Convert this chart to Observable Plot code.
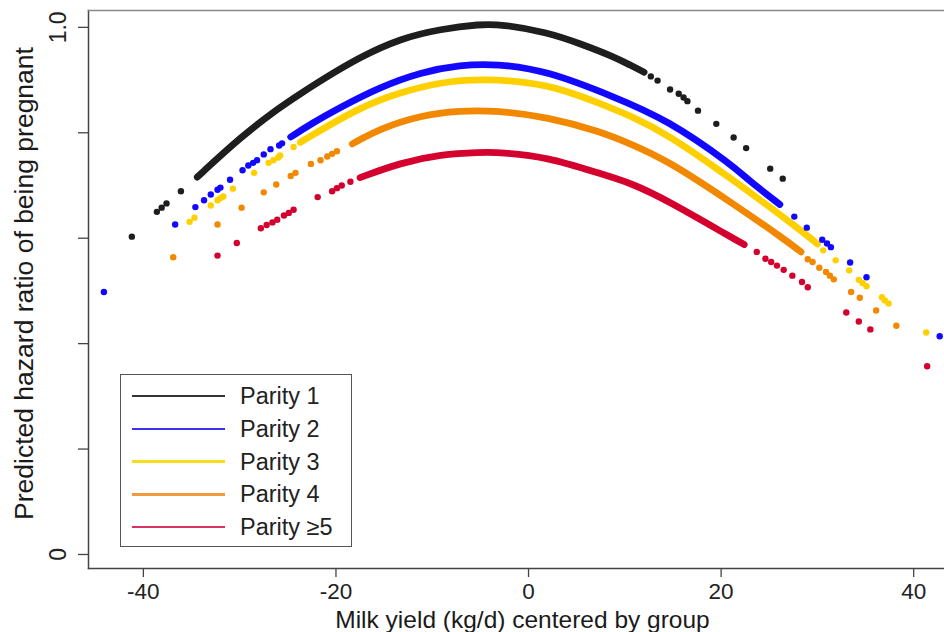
<!DOCTYPE html>
<html>
<head>
<meta charset="utf-8">
<script src="https://cdn.jsdelivr.net/npm/d3@7"></script>
<script src="https://cdn.jsdelivr.net/npm/@observablehq/plot@0.6"></script>
<style>
html, body { margin: 0; padding: 0; background: #fff; }
#wrap { position: relative; width: 944px; height: 632px; overflow: hidden; font-family: "Liberation Sans", Arial, sans-serif; }
#legend { position: absolute; left: 120px; top: 374px; width: 230px; height: 171px; border: 1.5px solid #555; background: #fff; }
.lg-line { position: absolute; left: 11px; width: 93px; height: 2.5px; }
.lg-text { position: absolute; left: 119px; height: 30px; line-height: 30px; font-size: 23.5px; color: #222; white-space: nowrap; }
</style>
</head>
<body>
<div id="wrap"></div>
<script>
// ---- labels / categories ----
const parities = ["Parity 1", "Parity 2", "Parity 3", "Parity 4", "Parity \u22655"];
const seriesColors = ["#1e1e1e", "#1208ff", "#ffd000", "#f28800", "#d4002e"];
const legendColors = ["#333333", "#3a32ee", "#f6dc1a", "#f09a3c", "#d83462"];
const xTicks = [-40, -20, 0, 20, 40];
const xTickLabels = ["-40", "-20", "0", "20", "40"];
const yTicks = [0, 0.2, 0.4, 0.6, 0.8, 1.0];
const yTickLabels = ["0", "", "", "", "", "1.0"];
const xTitle = "Milk yield (kg/d) centered by group";
const yTitle = "Predicted hazard ratio of being pregnant";

// ---- dense (continuous-looking) stretches of each series ----
const p1CurveX = [-34.4, -29.9, -25.8, -23.7, -21.6, -17.5, -13.3, -9.1, -5.0, -2.9, 1.9, 5.4, 8.9, 10.6, 12.0];
const p1CurveY = [0.716, 0.792, 0.849, 0.874, 0.899, 0.944, 0.979, 0.997, 1.006, 1.006, 0.991, 0.969, 0.944, 0.928, 0.915];
const p2CurveX = [-24.7, -22.6, -19.5, -15.4, -11.2, -7.1, -3.3, 1.9, 8.9, 14.4, 21.3, 22.7, 26.1];
const p2CurveY = [0.792, 0.817, 0.849, 0.887, 0.915, 0.929, 0.931, 0.918, 0.868, 0.825, 0.737, 0.712, 0.664];
const p3CurveX = [-23.7, -17.5, -13.3, -9.1, -5.0, 2.0, 7.5, 10.6, 14.4, 21.3, 28.3, 30.0];
const p3CurveY = [0.782, 0.849, 0.877, 0.896, 0.903, 0.894, 0.855, 0.832, 0.798, 0.710, 0.615, 0.589];
const p4CurveX = [-18.3, -15.4, -11.2, -7.1, -3.3, 2.0, 7.5, 10.6, 14.4, 21.3, 26.5, 28.3];
const p4CurveY = [0.779, 0.808, 0.833, 0.842, 0.842, 0.830, 0.802, 0.779, 0.748, 0.665, 0.599, 0.574];
const p5CurveX = [-17.5, -13.3, -9.1, -5.0, -2.9, 2.0, 7.5, 10.6, 14.4, 21.3, 22.4];
const p5CurveY = [0.715, 0.743, 0.759, 0.763, 0.763, 0.754, 0.722, 0.705, 0.672, 0.599, 0.588];

// ---- scattered single observations ----
const p1DotsX = [-41.2, -38.6, -38.1, -37.6, -36.1, 12.7, 13.4, 14.7, 15.6, 16.1, 16.5, 17.6, 19.5, 21.3, 22.6, 25.1, 26.4];
const p1DotsY = [0.603, 0.650, 0.658, 0.666, 0.689, 0.907, 0.899, 0.882, 0.874, 0.867, 0.860, 0.842, 0.817, 0.791, 0.771, 0.732, 0.713];
const p2DotsX = [-44.1, -36.7, -34.6, -33.7, -33.0, -32.3, -32.0, -31.0, -29.7, -29.1, -28.6, -28.2, -27.5, -26.8, -25.9, -25.6, 27.6, 28.9, 30.5, 31.0, 31.4, 33.4, 35.1, 42.7];
const p2DotsY = [0.498, 0.626, 0.659, 0.672, 0.683, 0.692, 0.696, 0.711, 0.729, 0.738, 0.743, 0.748, 0.759, 0.769, 0.776, 0.780, 0.641, 0.620, 0.597, 0.590, 0.583, 0.554, 0.526, 0.414];
const p3DotsX = [-35.2, -34.7, -33.0, -32.3, -32.0, -31.7, -30.7, -28.5, -27.0, -26.5, -26.0, -25.8, -24.4, 30.6, 31.9, 33.3, 34.3, 34.7, 35.1, 36.7, 37.0, 37.4, 41.3];
const p3DotsY = [0.631, 0.639, 0.662, 0.672, 0.676, 0.679, 0.694, 0.724, 0.743, 0.748, 0.753, 0.757, 0.773, 0.577, 0.558, 0.539, 0.521, 0.515, 0.509, 0.488, 0.482, 0.476, 0.421];
const p4DotsX = [-36.9, -32.3, -29.8, -27.5, -26.2, -24.7, -24.2, -22.6, -21.6, -20.9, -20.4, -19.9, 29.0, 29.5, 30.2, 30.9, 31.3, 31.7, 33.5, 34.4, 36.1, 38.2];
const p4DotsY = [0.564, 0.626, 0.658, 0.687, 0.702, 0.718, 0.724, 0.741, 0.748, 0.755, 0.760, 0.765, 0.560, 0.555, 0.544, 0.536, 0.529, 0.522, 0.498, 0.487, 0.463, 0.434];
const p5DotsX = [-32.3, -30.3, -27.8, -27.2, -26.6, -26.1, -25.4, -24.9, -24.4, -21.9, -20.4, -19.9, -19.4, -18.5, 23.7, 24.6, 25.2, 25.8, 26.5, 27.4, 28.4, 29.0, 33.0, 34.3, 35.5, 41.4];
const p5DotsY = [0.567, 0.591, 0.619, 0.625, 0.630, 0.635, 0.643, 0.648, 0.654, 0.678, 0.689, 0.695, 0.700, 0.707, 0.574, 0.561, 0.555, 0.548, 0.540, 0.529, 0.517, 0.507, 0.459, 0.442, 0.427, 0.357];

// ---- build tables ----
const curveSets = [[p1CurveX, p1CurveY], [p2CurveX, p2CurveY], [p3CurveX, p3CurveY], [p4CurveX, p4CurveY], [p5CurveX, p5CurveY]];
const dotSets = [[p1DotsX, p1DotsY], [p2DotsX, p2DotsY], [p3DotsX, p3DotsY], [p4DotsX, p4DotsY], [p5DotsX, p5DotsY]];
const curves = curveSets.flatMap(([xs, ys], k) => xs.map((x, i) => ({x, y: ys[i], parity: parities[k]})));
const dots = dotSets.flatMap(([xs, ys], k) => xs.map((x, i) => ({x, y: ys[i], parity: parities[k]})));
const yTickTable = yTicks.map((v, i) => ({v, label: yTickLabels[i]})).filter(d => d.label !== "");

const font = "'Liberation Sans', Arial, sans-serif";
const plot = Plot.plot({
  width: 944,
  height: 632,
  marginLeft: 88,
  marginRight: 0,
  marginTop: 10,
  marginBottom: 64,
  x: {domain: [-45.7, 43.2]},
  y: {domain: [-0.0266, 1.032]},
  color: {domain: parities, range: seriesColors},
  style: {fontFamily: font, fontSize: "23px", color: "#222", background: "#fff", overflow: "visible"},
  marks: [
    Plot.axisX({ticks: xTicks, tickFormat: d => xTickLabels[xTicks.indexOf(d)], tickSize: 9, tickPadding: 6, label: null, fontSize: 22.5, stroke: "#444", strokeWidth: 1.3}),
    Plot.axisY({ticks: yTicks, tickFormat: () => "", tickSize: 10, tickPadding: 0, label: null, stroke: "#444", strokeWidth: 1.3}),
    Plot.text(yTickTable, {y: "v", text: "label", frameAnchor: "left", textAnchor: "middle", lineAnchor: "middle", dx: -30, rotate: -90, fontSize: 23, fill: "#222"}),
    Plot.text([yTitle], {text: d => d, frameAnchor: "left", textAnchor: "middle", lineAnchor: "middle", dx: -64, dy: -6, rotate: -90, fontSize: 26.5, fill: "#1a1a1a"}),
    Plot.text([xTitle], {text: d => d, frameAnchor: "bottom", textAnchor: "middle", lineAnchor: "middle", dx: 6, dy: 52, fontSize: 24.5, fill: "#1a1a1a"}),
    Plot.line(curves, {x: "x", y: "y", z: "parity", stroke: "parity", strokeWidth: 6.8, curve: "basis", strokeLinecap: "round"}),
    Plot.dot(dots, {x: "x", y: "y", fill: "parity", r: 3.2}),
    Plot.frame({anchor: "left", stroke: "#444", strokeWidth: 1.5}),
    Plot.frame({anchor: "top", stroke: "#888", strokeWidth: 1.5}),
    Plot.frame({anchor: "bottom", stroke: "#444", strokeWidth: 1.5})
  ]
});
const wrap = document.getElementById("wrap");
wrap.appendChild(plot);

// ---- legend (inside the plot panel, bottom-left) ----
const legend = document.createElement("div");
legend.id = "legend";
parities.forEach((name, i) => {
  const cy = 21 + i * 32.8;
  const line = document.createElement("div");
  line.className = "lg-line";
  line.style.top = (cy - 1.25) + "px";
  line.style.background = legendColors[i];
  legend.appendChild(line);
  const t = document.createElement("div");
  t.className = "lg-text";
  t.style.top = (cy - 15) + "px";
  t.textContent = name;
  legend.appendChild(t);
});
wrap.appendChild(legend);
</script>
</body>
</html>
